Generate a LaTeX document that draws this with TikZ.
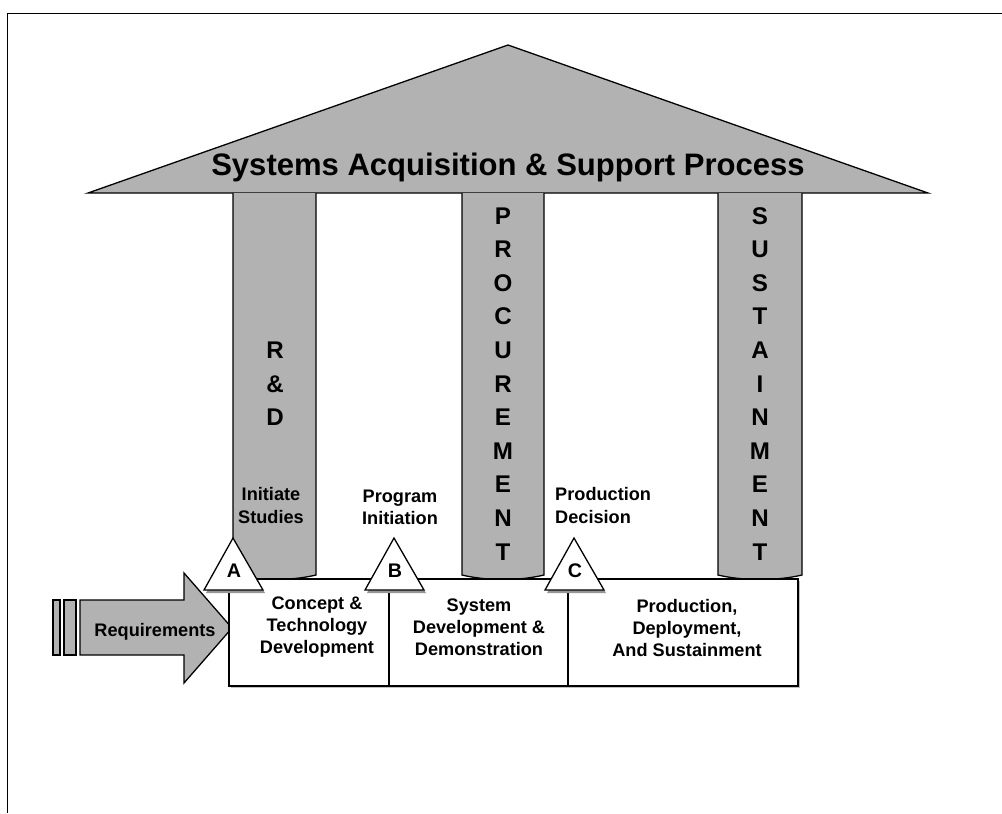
\documentclass[tikz,border=0pt]{standalone}
\usepackage{fontspec}
\setmainfont{Liberation Sans}
\usepackage{tikz}

\definecolor{pillargray}{RGB}{178,178,178}
\definecolor{shadowgray}{RGB}{150,150,150}

\begin{document}
\begin{tikzpicture}[x=0.3mm,y=-0.3mm]
  \tikzset{pillar/.style = {draw,fill=pillargray,line width=1.1pt}}
  \tikzset{phase/.style = {draw,fill=white,line width=1.1pt}}
  \tikzset{gate/.style = {draw,fill=white,line width=1.1pt,line join=miter}}
  \tikzset{pletter/.style = {font=\fontsize{20.6}{24}\selectfont\bfseries,anchor=base,inner sep=0pt}}
  \tikzset{note/.style = {font=\fontsize{15.5}{18.8}\selectfont\bfseries,align=center,inner sep=0pt}}

  \useasboundingbox (0,0) rectangle (1002,813);
  \draw[line width=0.8pt] (7,813) |- (1002,13);

  % roof
  \draw[pillar] (88,193) -- (508,45) -- (928,193) -- cycle;
  \node[font=\fontsize{26.5}{30}\selectfont\bfseries,anchor=base,inner sep=0pt] (title) at (508,175) {Systems Acquisition \& Support Process};

  % columns
  \foreach \l/\r in {233/316, 462/544, 718/802}
    \draw[pillar] (\l,193) -- (\l,575) .. controls (\l+25,581) and (\r-25,581) .. (\r,575) -- (\r,193);

  \foreach \ch [count=\i] in {R,{\&},D}
    \node[pletter] (rd\i) at (275,325+33.5*\i) {\ch};
  \foreach \ch [count=\i] in {P,R,O,C,U,R,E,M,E,N,T}
    \node[pletter] (proc\i) at (503,190.4+33.6*\i) {\ch};
  \foreach \ch [count=\i] in {S,U,S,T,A,I,N,M,E,N,T}
    \node[pletter] (sust\i) at (760,190.4+33.6*\i) {\ch};

  % requirements arrow
  \draw[pillar] (53,600) rectangle (60,655);
  \draw[pillar] (64,600) rectangle (76,655);
  \draw[pillar] (80,600) -- (184,600) -- (184,573) -- (232,628) -- (184,683) -- (184,655) -- (80,655) -- cycle;
  \node[note,anchor=base] (req) at (155,636) {Requirements};

  % phases
  \fill[shadowgray!60] (230.5,580.5) rectangle (799.5,687.5);
  \draw[phase] (229,579) rectangle (798,686);
  \draw[line width=1.1pt] (389,579) -- (389,686);
  \draw[line width=1.1pt] (568,579) -- (568,686);
  \node[note] (ctd) at (317,627) {Concept \&\\Technology\\Development};
  \node[note] (sdd) at (479,627) {System\\Development \&\\Demonstration};
  \node[note] (pds) at (687,628) {Production,\\Deployment,\\And Sustainment};

  % milestones
  \foreach \x/\g in {233/A, 394/B, 574/C} {
    \fill[shadowgray] (\x+2,541) -- (\x+32,593) -- (\x-27,593) -- cycle;
    \draw[gate] (\x,538) -- (\x+30,590) -- (\x-29,590) -- cycle;
    \node[font=\fontsize{16.8}{20}\selectfont\bfseries,anchor=base,inner sep=0pt] (gate\g) at (\x+1,577) {\g};
  }

  \node[note] (init) at (271,505.5) {Initiate\\Studies};
  \node[note] (prog) at (400,507) {Program\\Initiation};
  \node[note,anchor=west,align=left] (prod) at (555,505.5) {Production\\Decision};
\end{tikzpicture}
\end{document}
